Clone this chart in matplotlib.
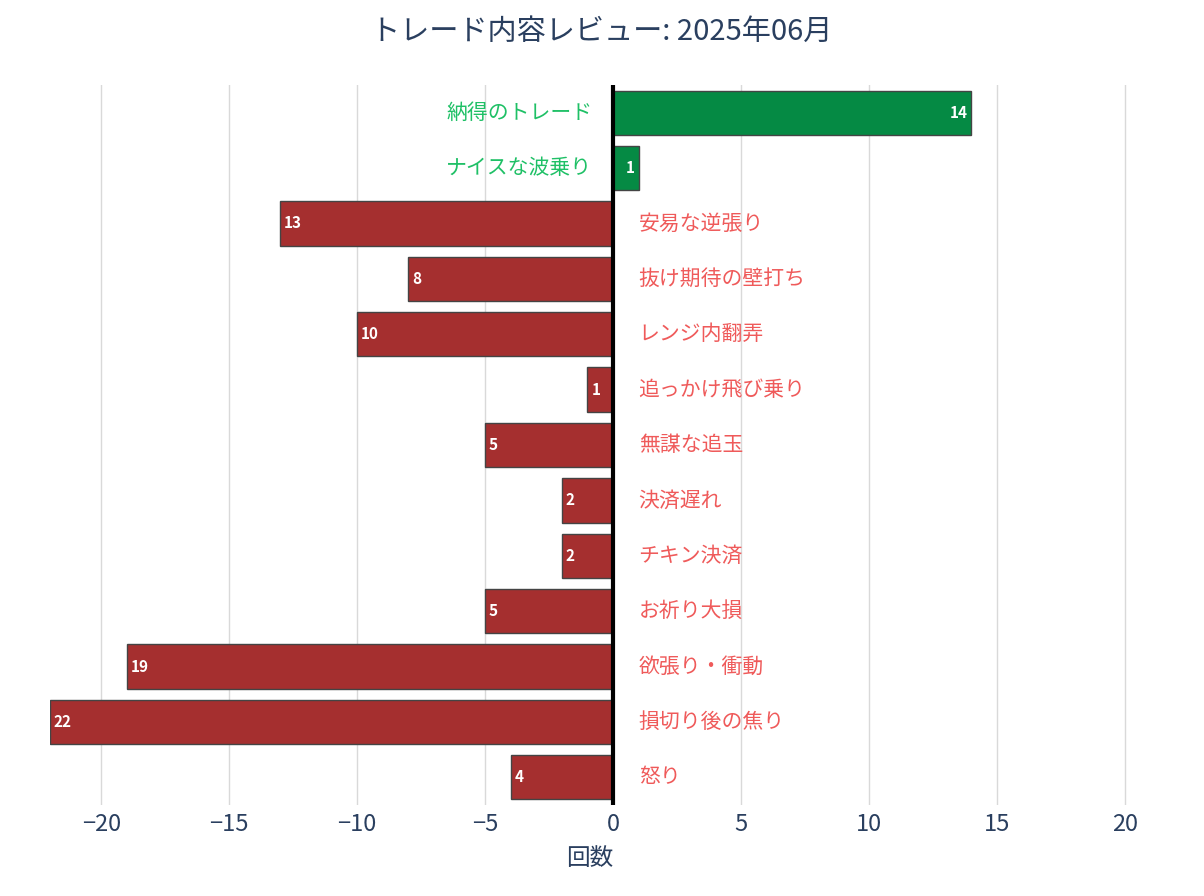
import matplotlib
matplotlib.use("Agg")
import matplotlib.pyplot as plt
import numpy as np

plt.rcParams["font.family"] = ["Noto Sans CJK JP", "DejaVu Sans"]

CATEGORIES = [
    "納得のトレード", "ナイスな波乗り", "安易な逆張り", "抜け期待の壁打ち",
    "レンジ内翻弄", "追っかけ飛び乗り", "無謀な追玉", "決済遅れ",
    "チキン決済", "お祈り大損", "欲張り・衝動", "損切り後の焦り", "怒り",
]
VALUES = [14, 1, -13, -8, -10, -1, -5, -2, -2, -5, -19, -22, -4]
XTICKS = [-20, -15, -10, -5, 0, 5, 10, 15, 20]

GOOD = "#058a44"
BAD = "#a52f2f"
GOOD_TXT = "#1fc066"
BAD_TXT = "#ef5a5a"
INK = "#2a3f5f"

fig = plt.figure(figsize=(12.04, 8.96), dpi=100)
ax = fig.add_axes([50 / 1204, 1 - 805 / 896, (1130 - 50) / 1204, (805 - 85) / 896])

y = np.arange(len(CATEGORIES))
vals = np.array(VALUES)
colors = [GOOD if v > 0 else BAD for v in vals]
ax.barh(y, vals, height=0.8, color=colors, edgecolor="#444444", linewidth=1, zorder=2)

for yi, v, name in zip(y, vals, CATEGORIES):
    if v > 0:
        ax.text(-0.8, yi, name, ha="right", va="center", fontsize=15, color=GOOD_TXT)
        ax.text(v - 0.15, yi, str(abs(v)), ha="right", va="center", fontsize=11,
                color="white", fontweight="bold")
    else:
        ax.text(1.0, yi, name, ha="left", va="center", fontsize=15, color=BAD_TXT)
        ax.text(v + 0.15, yi, str(abs(v)), ha="left", va="center", fontsize=11,
                color="white", fontweight="bold")

ax.axvline(0, color="black", linewidth=3, zorder=3)
ax.set_xlim(-22, 20.2)
ax.set_ylim(len(CATEGORIES) - 0.5, -0.5)
ax.set_yticks([])
ax.set_xticks(XTICKS)
ax.set_xticklabels([str(t).replace("-", "\u2212") for t in XTICKS], fontsize=17, color=INK)
ax.tick_params(axis="x", length=0, pad=6)
ax.grid(axis="x", color="#d9d9d9", linewidth=1, zorder=0)
for s in ax.spines.values():
    s.set_visible(False)
ax.set_xlabel("回数", fontsize=17, color=INK, labelpad=8)

fig.text(0.5, 1 - 32 / 896, "トレード内容レビュー: 2025年06月", ha="center", va="center",
         fontsize=21, color=INK)

fig.savefig("out.png", dpi=100, facecolor="white")
